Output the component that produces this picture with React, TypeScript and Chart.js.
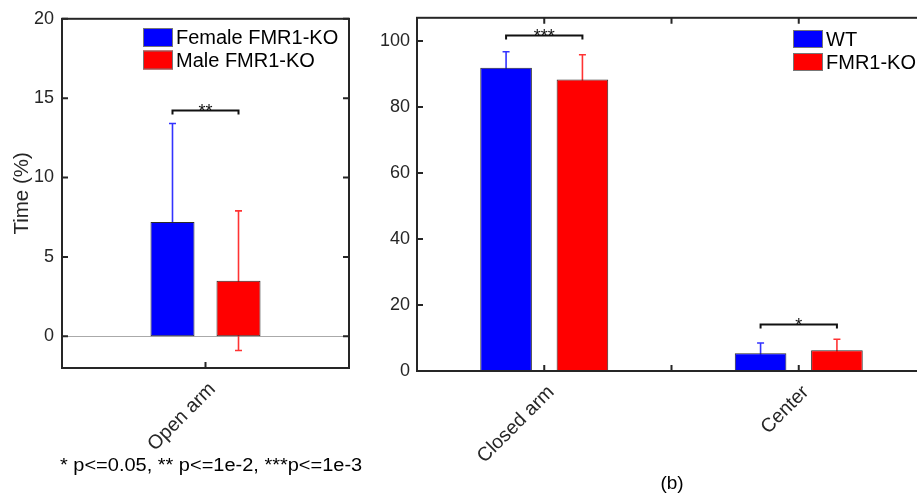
import React, { useEffect, useRef } from 'react';
import { Chart, registerables } from 'chart.js';

Chart.register(...registerables);

// ---------- data ----------
const leftCategories = ['Open arm'];
const femaleMeans = [7.2];
const femaleErrors = [6.2];
const maleMeans = [3.5];
const maleErrors = [4.4];
const leftSigLabels = ['**'];
const leftSigLevels = [14.25];
const leftYTicks = [0, 5, 10, 15, 20];

const rightCategories = ['Closed arm', 'Center'];
const wtMeans = [91.9, 5.4];
const wtErrors = [4.8, 3.1];
const koMeans = [88.3, 6.3];
const koErrors = [7.5, 3.3];
const rightSigLabels = ['***', '*'];
const rightSigLevels = [101.7, 14.1];
const rightYTicks = [0, 20, 40, 60, 80, 100];

const FONT = "Arial, 'Liberation Sans', sans-serif";
const AXIS = '#262626';
const BLUE = '#0000ff';
const RED = '#ff0000';

const decor = {
  id: 'decor',
  beforeDatasetsDraw(chart: any, _a: any, opts: any) {
    const { ctx, chartArea: ca, scales } = chart;
    const y = scales.y;
    ctx.save();
    if (opts.zeroLine) {
      const y0 = Math.round(y.getPixelForValue(0)) + 0.5;
      ctx.strokeStyle = '#aaaaaa';
      ctx.lineWidth = 1;
      ctx.beginPath();
      ctx.moveTo(ca.left, y0);
      ctx.lineTo(ca.right, y0);
      ctx.stroke();
    }
    const cap = 3.5;
    (opts.errors || []).forEach((errs: number[], i: number) => {
      const meta = chart.getDatasetMeta(i);
      const vals = chart.data.datasets[i].data;
      ctx.strokeStyle = opts.errorColors[i];
      ctx.lineWidth = 1.6;
      meta.data.forEach((el: any, j: number) => {
        const v = vals[j];
        const e = errs[j];
        const yt = y.getPixelForValue(v + e);
        const yb = y.getPixelForValue(v - e);
        const xc = el.x;
        ctx.beginPath();
        ctx.moveTo(xc, yb);
        ctx.lineTo(xc, yt);
        ctx.moveTo(xc - cap, yt);
        ctx.lineTo(xc + cap, yt);
        ctx.moveTo(xc - cap, yb);
        ctx.lineTo(xc + cap, yb);
        ctx.stroke();
      });
    });
    ctx.restore();
  },
  afterDatasetsDraw(chart: any, _a: any, opts: any) {
    const { ctx, chartArea: ca, scales } = chart;
    const x = scales.x;
    const y = scales.y;
    ctx.save();
    // significance brackets
    const m0 = chart.getDatasetMeta(0);
    const m1 = chart.getDatasetMeta(1);
    (opts.sigLabels || []).forEach((lab: string, j: number) => {
      const x1 = m0.data[j].x;
      const x2 = m1.data[j].x;
      const yy = Math.round(y.getPixelForValue(opts.sigLevels[j])) + 0.5;
      ctx.strokeStyle = '#111';
      ctx.lineWidth = 2;
      ctx.beginPath();
      ctx.moveTo(x1, yy + 4);
      ctx.lineTo(x1, yy);
      ctx.lineTo(x2, yy);
      ctx.lineTo(x2, yy + 4);
      ctx.stroke();
      ctx.fillStyle = '#111';
      ctx.font = `18px ${FONT}`;
      ctx.textAlign = 'center';
      ctx.textBaseline = 'alphabetic';
      ctx.fillText(lab, (x1 + x2) / 2, yy + 6.5);
    });
    // axes box and inner ticks
    ctx.strokeStyle = AXIS;
    ctx.lineWidth = 2;
    ctx.strokeRect(ca.left, ca.top, ca.right - ca.left, ca.bottom - ca.top);
    const tl = 6;
    ctx.beginPath();
    y.ticks.forEach((t: any) => {
      const py = y.getPixelForValue(t.value);
      ctx.moveTo(ca.left, py);
      ctx.lineTo(ca.left + tl, py);
      ctx.moveTo(ca.right, py);
      ctx.lineTo(ca.right - tl, py);
    });
    const xs: number[] = [];
    const n = x.ticks.length;
    for (let i = 0; i < n; i++) {
      xs.push(x.getPixelForTick(i));
      if (i < n - 1) xs.push((x.getPixelForTick(i) + x.getPixelForTick(i + 1)) / 2);
    }
    xs.forEach((px) => {
      ctx.moveTo(px, ca.bottom);
      ctx.lineTo(px, ca.bottom - tl);
      if (opts.topTicks) {
        ctx.moveTo(px, ca.top);
        ctx.lineTo(px, ca.top + tl);
      }
    });
    ctx.stroke();
    // legend
    const lg = opts.legend;
    chart.data.datasets.forEach((ds: any, i: number) => {
      const sy = lg.y + i * lg.row;
      ctx.fillStyle = ds.backgroundColor;
      ctx.fillRect(lg.x, sy, lg.w, lg.h);
      ctx.strokeStyle = '#777';
      ctx.lineWidth = 1;
      ctx.strokeRect(lg.x + 0.5, sy + 0.5, lg.w - 1, lg.h - 1);
      ctx.fillStyle = '#000';
      ctx.font = `20px ${FONT}`;
      ctx.textAlign = 'left';
      ctx.textBaseline = 'middle';
      ctx.fillText(ds.label, lg.x + lg.w + 3, sy + lg.h / 2 + 1);
    });
    ctx.restore();
  },
};

function makeConfig(p: any) {
  return {
    type: 'bar',
    data: {
      labels: p.labels,
      datasets: [
        {
          label: p.names[0],
          data: p.a,
          backgroundColor: BLUE,
          borderColor: '#2a2a2a',
          borderWidth: 1,
          borderSkipped: false,
          categoryPercentage: p.cp,
          barPercentage: p.bp,
        },
        {
          label: p.names[1],
          data: p.b,
          backgroundColor: RED,
          borderColor: '#2a2a2a',
          borderWidth: 1,
          borderSkipped: false,
          categoryPercentage: p.cp,
          barPercentage: p.bp,
        },
      ],
    },
    options: {
      responsive: false,
      animation: false,
      events: [],
      layout: { padding: { top: 16, right: p.padRight, left: 0, bottom: 0 } },
      plugins: {
        legend: { display: false },
        tooltip: { enabled: false },
        decor: {
          zeroLine: p.zeroLine,
          errors: [p.ea, p.eb],
          errorColors: ['#3333ff', '#ff3333'],
          sigLabels: p.sigLabels,
          sigLevels: p.sigLevels,
          topTicks: p.topTicks,
          legend: p.legend,
        },
      },
      scales: {
        x: {
          type: 'category',
          offset: true,
          grid: { display: false, drawTicks: false },
          border: { display: false },
          ticks: {
            autoSkip: false,
            minRotation: 45,
            maxRotation: 45,
            padding: p.xPad,
            labelOffset: p.xLabelOffset,
            color: AXIS,
            font: { family: FONT, size: 19.5 },
          },
          afterFit: (s: any) => {
            s.height = p.xHeight;
          },
        },
        y: {
          type: 'linear',
          min: p.ymin,
          max: p.ymax,
          grid: { display: false, drawTicks: false },
          border: { display: false },
          ticks: {
            padding: p.yPad,
            color: AXIS,
            font: { family: FONT, size: 18 },
          },
          afterBuildTicks: (s: any) => {
            s.ticks = p.yTicks.map((v: number) => ({ value: v }));
          },
          afterFit: (s: any) => {
            s.width = p.yWidth;
          },
          title: p.yTitle
            ? {
                display: true,
                text: p.yTitle,
                color: AXIS,
                font: { family: FONT, size: 20.5 },
                padding: { top: 10.5, bottom: 0 },
              }
            : { display: false },
        },
      },
    },
    plugins: [decor],
  };
}

export default function App() {
  const leftRef = useRef<HTMLCanvasElement>(null);
  const rightRef = useRef<HTMLCanvasElement>(null);

  useEffect(() => {
    const left = new Chart(
      leftRef.current as HTMLCanvasElement,
      makeConfig({
        labels: leftCategories,
        names: ['Female FMR1-KO', 'Male FMR1-KO'],
        a: femaleMeans,
        b: maleMeans,
        ea: femaleErrors,
        eb: maleErrors,
        cp: 0.46,
        bp: 0.667,
        padRight: 16,
        zeroLine: true,
        sigLabels: leftSigLabels,
        sigLevels: leftSigLevels,
        topTicks: false,
        legend: { x: 143, y: 28, row: 22.5, w: 30, h: 19 },
        xPad: 10,
        xLabelOffset: 7,
        xHeight: 127,
        ymin: -2,
        ymax: 20,
        yTicks: leftYTicks,
        yPad: 8,
        yWidth: 62,
        yTitle: 'Time (%)',
      }) as any
    );
    const right = new Chart(
      rightRef.current as HTMLCanvasElement,
      makeConfig({
        labels: rightCategories,
        names: ['WT', 'FMR1-KO'],
        a: wtMeans,
        b: koMeans,
        ea: wtErrors,
        eb: koErrors,
        cp: 0.6,
        bp: 0.676,
        padRight: 9,
        zeroLine: false,
        sigLabels: rightSigLabels,
        sigLevels: rightSigLevels,
        topTicks: true,
        legend: { x: 428, y: 30, row: 23, w: 30, h: 18 },
        xPad: 10,
        xLabelOffset: 7,
        xHeight: 124,
        ymin: 0,
        ymax: 107,
        yTicks: rightYTicks,
        yPad: 7,
        yWidth: 52,
        yTitle: '',
      }) as any
    );
    return () => {
      left.destroy();
      right.destroy();
    };
  }, []);

  return (
    <div
      style={{
        position: 'absolute',
        left: 0,
        top: 0,
        width: 917,
        height: 495,
        overflow: 'hidden',
        background: '#fff',
      }}
    >
      <canvas
        ref={leftRef}
        width={365}
        height={495}
        style={{ position: 'absolute', left: 0, top: 0, width: 365, height: 495 }}
      />
      <canvas
        ref={rightRef}
        width={570}
        height={495}
        style={{ position: 'absolute', left: 365, top: 0, width: 570, height: 495 }}
      />
      <div
        style={{
          position: 'absolute',
          left: 60,
          top: 454,
          fontFamily: FONT,
          fontSize: 18,
          lineHeight: '22px',
          color: '#000',
          whiteSpace: 'nowrap',
          transformOrigin: 'left center',
          transform: 'scaleX(1.11)',
        }}
      >
        * p&lt;=0.05, ** p&lt;=1e-2, ***p&lt;=1e-3
      </div>
      <div
        style={{
          position: 'absolute',
          left: 642,
          width: 60,
          top: 472,
          textAlign: 'center',
          fontFamily: FONT,
          fontSize: 19,
          lineHeight: '22px',
          color: '#000',
        }}
      >
        (b)
      </div>
    </div>
  );
}
